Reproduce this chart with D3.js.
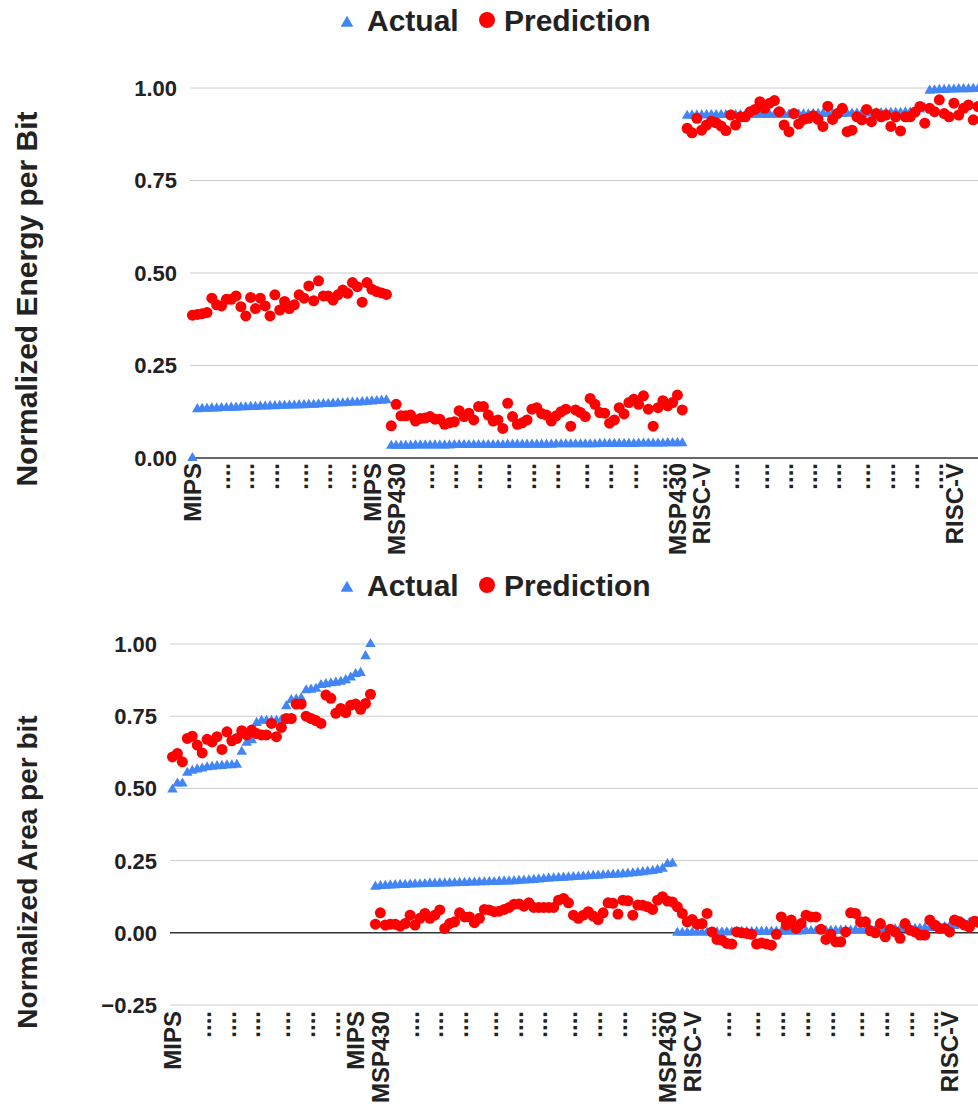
<!DOCTYPE html>
<html>
<head>
<meta charset="utf-8">
<script src="https://cdn.jsdelivr.net/npm/d3@7/dist/d3.min.js"></script>
<style>
  body {margin:0; background:#fff;}
  text {font-family:"Liberation Sans", Arial, sans-serif; font-weight:bold; fill:#222;}
</style>
</head>
<body>
<svg id="holder" width="978" height="1105"></svg>
<script>
// category labels (index into the rows, text shown under the axis)
var label_index=[0,6,11,16,22,27,32,37, 42,48,53,58,64,69,74,80,85,90,96,100, 105,111,117,122,127,132,138,143,148,153,157];
var label_text=["MIPS","....","....","....","....","....","....","MIPS",
  "MSP430","....","....","....","....","....","....","....","....","....","....","MSP430",
  "RISC-V","....","....","....","....","....","....","....","....","....","RISC-V"];

var series_names=["Actual","Prediction"];

// energy per bit: MIPS (41), MSP430 (61), RISC-V (63)
var energy_actual=[
  0.000,0.132,0.133,0.133,0.134,0.134,0.135,0.135,0.136,0.136,0.137,
  0.137,0.138,0.138,0.139,0.139,0.140,0.140,0.141,0.141,0.142,
  0.142,0.143,0.143,0.144,0.144,0.145,0.146,0.146,0.147,0.148,
  0.148,0.149,0.150,0.150,0.151,0.152,0.153,0.154,0.155,0.156,
  0.033,0.033,0.033,0.033,0.033,0.034,0.034,0.034,0.034,0.034,
  0.034,0.034,0.034,0.035,0.035,0.035,0.035,0.035,0.035,0.035,
  0.035,0.035,0.035,0.035,0.036,0.036,0.036,0.036,0.036,0.036,
  0.036,0.036,0.036,0.036,0.037,0.037,0.037,0.037,0.037,0.037,
  0.037,0.037,0.037,0.038,0.038,0.038,0.038,0.038,0.038,0.038,
  0.038,0.039,0.039,0.039,0.039,0.039,0.039,0.040,0.040,0.040,
  0.040,
  0.925,0.926,0.926,0.926,0.927,0.927,0.927,0.927,0.927,0.927,
  0.927,0.927,0.927,0.928,0.928,0.928,0.928,0.928,0.928,0.928,
  0.928,0.928,0.929,0.929,0.929,0.929,0.930,0.930,0.930,0.930,
  0.930,0.930,0.930,0.931,0.931,0.931,0.931,0.931,0.932,0.932,
  0.932,0.932,0.933,0.933,0.933,0.934,0.934,0.935,0.942,0.946,
  0.993,0.994,0.995,0.995,0.996,0.996,0.997,0.997,0.997,0.998,
  0.998,0.998,0.998
];
var energy_prediction=[
  0.386,0.388,0.390,0.393,0.432,0.414,0.411,0.429,0.429,0.438,
  0.409,0.384,0.434,0.404,0.432,0.411,0.384,0.441,0.400,0.423,
  0.404,0.414,0.441,0.432,0.465,0.425,0.479,0.438,0.438,0.427,
  0.441,0.454,0.445,0.474,0.463,0.421,0.474,0.456,0.450,0.446,
  0.442,
  0.087,0.145,0.114,0.114,0.116,0.100,0.107,0.108,0.112,0.105,
  0.105,0.091,0.095,0.098,0.128,0.112,0.121,0.103,0.139,0.139,
  0.116,0.100,0.103,0.080,0.148,0.112,0.091,0.095,0.103,0.132,
  0.136,0.120,0.116,0.100,0.114,0.125,0.132,0.086,0.130,0.123,
  0.112,0.161,0.145,0.123,0.121,0.094,0.103,0.136,0.119,0.150,
  0.159,0.145,0.168,0.132,0.086,0.136,0.155,0.141,0.150,0.170,
  0.130,
  0.891,0.879,0.918,0.886,0.900,0.910,0.906,0.897,0.885,0.927,
  0.900,0.922,0.922,0.936,0.942,0.963,0.945,0.959,0.966,0.936,
  0.900,0.882,0.931,0.903,0.915,0.918,0.925,0.915,0.896,0.951,
  0.915,0.931,0.945,0.882,0.886,0.922,0.914,0.942,0.909,0.931,
  0.922,0.927,0.896,0.922,0.884,0.922,0.922,0.935,0.950,0.905,
  0.945,0.936,0.968,0.931,0.922,0.959,0.927,0.945,0.954,0.914,
  0.950,0.940,0.930
];

// area per bit: MIPS (41), MSP430 (61), RISC-V (63)
var area_actual=[
  0.496,0.517,0.517,0.554,0.561,0.566,0.569,0.573,0.575,0.577,
  0.578,0.580,0.580,0.582,0.627,0.658,0.667,0.727,0.734,0.734,
  0.734,0.734,0.737,0.785,0.806,0.808,0.812,0.840,0.842,0.845,
  0.858,0.861,0.864,0.866,0.869,0.875,0.884,0.896,0.900,0.958,
  1.000,
  0.160,0.162,0.163,0.164,0.165,0.166,0.166,0.167,0.168,0.168,
  0.169,0.170,0.170,0.171,0.171,0.172,0.172,0.173,0.173,0.174,
  0.174,0.175,0.175,0.176,0.176,0.177,0.178,0.178,0.179,0.180,
  0.181,0.182,0.183,0.185,0.186,0.188,0.189,0.190,0.191,0.192,
  0.193,0.194,0.195,0.196,0.197,0.198,0.199,0.200,0.201,0.202,
  0.203,0.205,0.206,0.208,0.210,0.212,0.214,0.218,0.222,0.238,
  0.240,
  0.000,0.000,0.000,0.001,0.001,0.001,0.001,0.002,0.002,0.002,
  0.002,0.002,0.003,0.003,0.003,0.003,0.003,0.004,0.004,0.004,
  0.004,0.004,0.005,0.005,0.005,0.005,0.006,0.006,0.006,0.006,
  0.007,0.007,0.007,0.008,0.008,0.008,0.009,0.009,0.009,0.010,
  0.010,0.011,0.011,0.012,0.012,0.013,0.013,0.014,0.014,0.015,
  0.016,0.017,0.018,0.019,0.020,0.022,0.024,0.027,0.030,0.035,
  0.038,0.040,0.042
];
var area_prediction=[
  0.609,0.621,0.592,0.673,0.681,0.650,0.623,0.670,0.661,0.679,
  0.635,0.696,0.665,0.673,0.700,0.685,0.702,0.690,0.685,0.685,
  0.725,0.679,0.711,0.742,0.742,0.792,0.792,0.750,0.742,0.735,
  0.725,0.823,0.812,0.760,0.777,0.762,0.788,0.792,0.774,0.794,
  0.826,
  0.030,0.069,0.027,0.030,0.030,0.023,0.032,0.061,0.027,0.050,
  0.067,0.050,0.061,0.079,0.015,0.032,0.038,0.069,0.055,0.055,
  0.035,0.050,0.081,0.079,0.073,0.075,0.081,0.088,0.099,0.100,
  0.092,0.104,0.088,0.088,0.088,0.088,0.088,0.113,0.119,0.104,
  0.061,0.050,0.061,0.073,0.058,0.046,0.069,0.104,0.102,0.065,
  0.113,0.111,0.061,0.096,0.095,0.090,0.081,0.113,0.125,0.110,
  0.107,
  0.090,0.067,0.038,0.046,0.030,0.032,0.067,0.003,-0.023,-0.025,
  -0.037,-0.039,0.003,0.000,-0.002,-0.005,-0.039,-0.035,-0.039,-0.043,
  -0.005,0.055,0.027,0.044,0.015,0.032,0.061,0.055,0.055,0.012,
  -0.023,-0.005,-0.031,-0.031,0.003,0.069,0.067,0.038,0.038,0.007,
  0.000,0.032,-0.014,0.012,0.003,-0.019,0.032,0.009,0.003,-0.008,
  -0.008,0.044,0.027,0.015,0.015,0.003,0.044,0.038,0.027,0.020,
  0.040,0.035,0.030
];

var energy_ticks=[0,0.25,0.5,0.75,1];
var area_ticks=[-0.25,0,0.25,0.5,0.75,1];

var blue='#4285f4';
var red='#ff0000';

var svg=d3.select('#holder');

draw_chart({
  top:0, actual:energy_actual, prediction:energy_prediction,
  ticks:energy_ticks, ydomain:[0,1], yrange:[458,88],
  left:190, pitch:4.85, title:'Normalized Energy per Bit', title_y:299, title_size:30,
  label_y:463
});
draw_chart({
  top:565, actual:area_actual, prediction:area_prediction,
  ticks:area_ticks, ydomain:[-0.25,1], yrange:[1005,644],
  left:170, pitch:4.95, title:'Normalized Area per bit', title_y:872, title_size:28,
  label_y:1011
});

function draw_chart(opts) {
  var N=opts.actual.length;
  var gg=svg.append('g');

  var xscale=d3.scaleBand().domain(d3.range(N)).range([opts.left,opts.left+N*opts.pitch]);
  var yscale=d3.scaleLinear().domain(opts.ydomain).range(opts.yrange);
  var cx=function(i) {return xscale(i)+xscale.bandwidth()/2;};
  var right=978;

  // legend
  var lg=gg.append('g').attr('transform','translate(0,'+opts.top+')');
  lg.append('path')
    .attr('d',d3.symbol().type(d3.symbolTriangle).size(70)())
    .attr('transform','translate(347,23)')
    .attr('fill',blue);
  lg.append('text').attr('x',367).attr('y',31).style('font-size','30px').text(series_names[0]);
  lg.append('circle').attr('cx',487).attr('cy',20).attr('r',8).attr('fill',red);
  lg.append('text').attr('x',504).attr('y',31).style('font-size','30px').text(series_names[1]);

  // gridlines
  gg.selectAll('line.grid').data(opts.ticks).enter().append('line')
    .attr('class','grid')
    .attr('x1',opts.left).attr('x2',right)
    .attr('y1',function(d) {return yscale(d);})
    .attr('y2',function(d) {return yscale(d);})
    .attr('stroke',function(d) {return d===0 ? '#333' : '#ccc';})
    .attr('stroke-width',function(d) {return d===0 ? 1.5 : 1;});

  // y tick labels
  gg.selectAll('text.ytick').data(opts.ticks).enter().append('text')
    .attr('class','ytick')
    .attr('x',opts.left-13)
    .attr('y',function(d) {return yscale(d);})
    .attr('dy','0.36em')
    .attr('text-anchor','end')
    .style('font-size','22px')
    .text(function(d) {return d3.format('.2f')(d);});

  // axis title
  gg.append('text')
    .attr('transform','translate(37,'+opts.title_y+') rotate(-90)')
    .attr('text-anchor','middle')
    .style('font-size',opts.title_size+'px')
    .text(opts.title);

  // category labels
  gg.selectAll('text.xlab').data(label_index).enter().append('text')
    .attr('class','xlab')
    .attr('transform',function(d) {return 'translate('+cx(d)+','+opts.label_y+') rotate(-90)';})
    .attr('dy','0.36em')
    .attr('text-anchor','end')
    .style('font-size','24px')
    .text(function(d,i) {return label_text[i];});

  // actual (triangles)
  var tri=d3.symbol().type(d3.symbolTriangle).size(48);
  gg.selectAll('path.actual').data(opts.actual).enter().append('path')
    .attr('class','actual')
    .attr('d',tri())
    .attr('transform',function(d,i) {return 'translate('+cx(i)+','+yscale(d)+')';})
    .attr('fill',blue);

  // prediction (dots)
  gg.selectAll('circle.pred').data(opts.prediction).enter().append('circle')
    .attr('class','pred')
    .attr('cx',function(d,i) {return cx(i);})
    .attr('cy',function(d) {return yscale(d);})
    .attr('r',5.5)
    .attr('fill',red);
}
</script>
</body>
</html>
